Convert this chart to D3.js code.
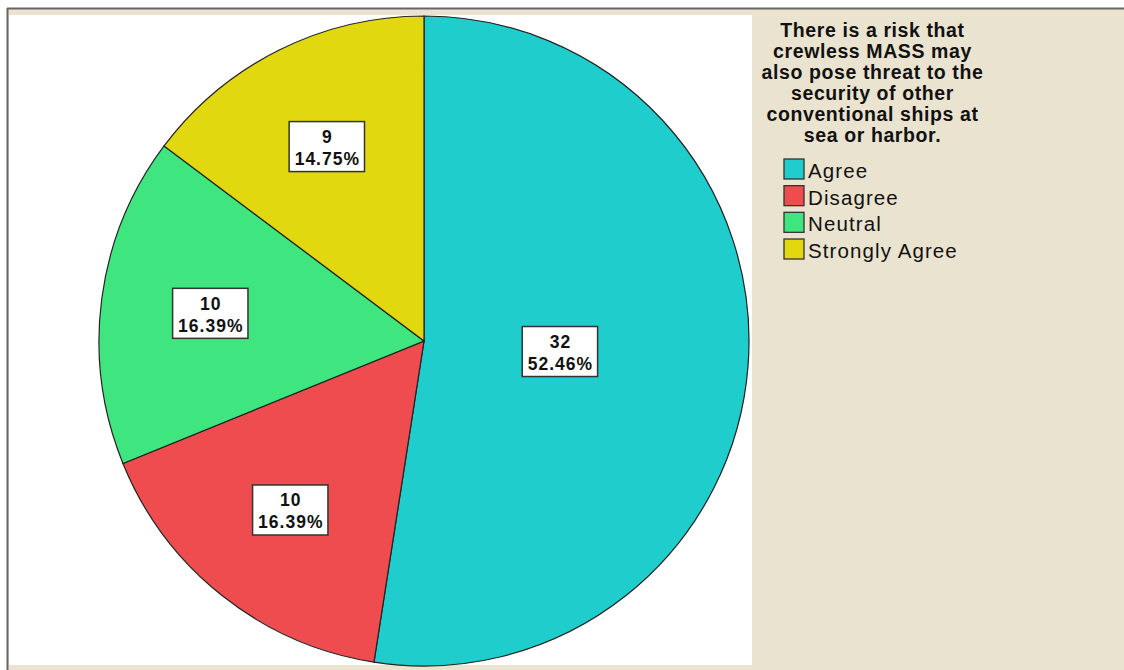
<!DOCTYPE html>
<html><head><meta charset="utf-8">
<script src="https://cdn.jsdelivr.net/npm/d3@7"></script>
<style>body{margin:0;background:#fff;}svg{display:block;}</style>
</head><body>
<svg id="c" width="1124" height="670"></svg>
<script>
const categories = ["Agree", "Disagree", "Neutral", "Strongly Agree"];
const counts = [32, 10, 10, 9];
const percents = ["52.46%", "16.39%", "16.39%", "14.75%"];
const colors = ["#1FCDCD", "#EE4C4E", "#3FE57E", "#E2D810"];
const titleLines = ["There is a risk that", "crewless MASS may", "also pose threat to the", "security of other", "conventional ships at", "sea or harbor."];

const FONT = "Arial, 'Liberation Sans', sans-serif";
const svg = d3.select("#c");
const W = 1124, H = 670;
svg.append("rect").attr("x",0).attr("y",0).attr("width",W).attr("height",H).attr("fill","#fff");
svg.append("rect").attr("x",8).attr("y",8).attr("width",W-8).attr("height",H-8).attr("fill","#EAE3CF");
svg.append("line").attr("x1",7).attr("x2",W).attr("y1",8.5).attr("y2",8.5).attr("stroke","#666").attr("stroke-width",2);
svg.append("line").attr("x1",7.5).attr("x2",7.5).attr("y1",8).attr("y2",H).attr("stroke","#666").attr("stroke-width",2);
svg.append("rect").attr("x",9).attr("y",15).attr("width",743).attr("height",650).attr("fill","#fff");

const cx = 424, cy = 341, R = 325;
const pie = d3.pie().sort(null).value(d => d)(counts);
const arc = d3.arc().innerRadius(0).outerRadius(R);
const g = svg.append("g").attr("transform", `translate(${cx},${cy})`);
g.selectAll("path").data(pie).join("path")
  .attr("d", arc).attr("fill", (d,i) => colors[i])
  .attr("stroke", "#222").attr("stroke-width", 1.2);

pie.forEach((d,i) => {
  const th = d.endAngle - d.startAngle;
  const r = 4*R*Math.sin(th/2)/(3*th) * 1.04;
  const a = (d.startAngle + d.endAngle)/2;
  const x = r*Math.sin(a), y = -r*Math.cos(a);
  const lg = g.append("g").attr("transform", `translate(${x},${y})`);
  const t1 = String(counts[i]), t2 = percents[i];
  const mk = (s, yy) => lg.append("text").attr("text-anchor","middle").attr("y",yy)
    .attr("font-family",FONT).attr("font-weight","bold").attr("font-size",17.5)
    .attr("letter-spacing",1).attr("fill","#111").text(s);
  const tmp = mk(t2, 0);
  const w = tmp.node().getComputedTextLength();
  tmp.remove();
  lg.append("rect").attr("x",-w/2-5).attr("y",-25).attr("width",w+10).attr("height",50)
    .attr("fill","#fff").attr("stroke","#333").attr("stroke-width",1.5);
  mk(t1, -3.5).attr("dx", 0.5);
  mk(t2, 18.5).attr("dx", 0.5);
});

titleLines.forEach((s,i) => {
  svg.append("text").attr("x",872.5).attr("y",36.5 + i*21).attr("text-anchor","middle")
    .attr("font-family",FONT).attr("font-weight","bold").attr("font-size",19.5)
    .attr("letter-spacing",0.6).attr("fill","#111").text(s);
});
const ly = d3.scalePoint().domain(categories).range([169, 249]);
categories.forEach((c,i) => {
  const y = ly(c);
  svg.append("rect").attr("x",784).attr("y",y-10).attr("width",20).attr("height",20)
    .attr("fill",colors[i]).attr("stroke","#333").attr("stroke-width",1.3);
  svg.append("text").attr("x",808).attr("y",y+9)
    .attr("font-family",FONT).attr("font-size",20.5).attr("letter-spacing",1.1).attr("fill","#111").text(c);
});
</script>
</body></html>
